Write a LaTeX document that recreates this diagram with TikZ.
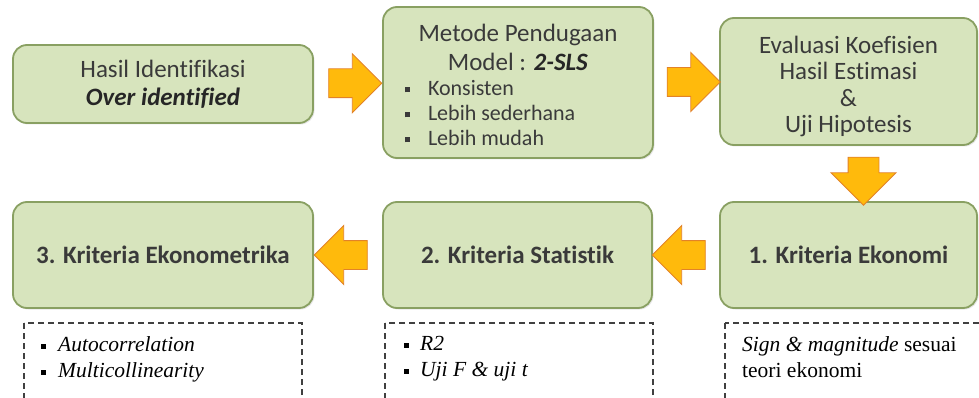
\documentclass[tikz,border=0pt]{standalone}
\usepackage{fontspec}
\setmainfont{Carlito}[Ligatures=NoCommon]
\newfontfamily\notefont{Liberation Serif}
\usetikzlibrary{shapes.arrows, shadows, calc}

\definecolor{boxfill}{RGB}{215,228,189}
\definecolor{boxline}{RGB}{137,160,98}
\definecolor{arrowfill}{RGB}{255,186,12}
\definecolor{arrowline}{RGB}{226,130,40}
\definecolor{txtgray}{RGB}{58,58,58}

\newcommand{\sqbul}{\rule[0.25ex]{5pt}{5pt}}

\tikzset{
    stagebox/.style={draw=boxline, line width=1.8pt, fill=boxfill,
        rounded corners=14pt, text=txtgray, align=center, inner sep=0pt,
        font=\fontsize{25}{27}\selectfont,
        drop shadow={shadow xshift=1.5pt, shadow yshift=-1.5pt, opacity=0.2}},
    flowarrow/.style={single arrow, draw=arrowline, line width=0.9pt,
        fill=arrowfill, inner xsep=0pt, inner ysep=14pt,
        single arrow head extend=15pt, minimum height=53pt},
    notebox/.style={draw=black!75, line width=1.1pt, dash pattern=on 6pt off 4pt},
    notetext/.style={anchor=north west, align=left, inner sep=0pt,
        font=\notefont\fontsize{21.5}{26}\selectfont}
}

\begin{document}
\begin{tikzpicture}[x=1pt, y=-1pt]
    \useasboundingbox (0,0) rectangle (979,398);
    \clip (0,0) rectangle (979,398);

    % 1. Top row
    \node[stagebox, minimum width=300pt, minimum height=78pt, font=\fontsize{25}{28}\selectfont] (hasil) at (163,84)
        {Hasil Identifikasi\\ \textcolor{black!85}{\textbf{\textit{Over identified}}}};
    \node[stagebox, minimum width=270pt, minimum height=151pt] (metode) at (518,82.5)
        {\begin{minipage}{250pt}\fontsize{25}{29}\selectfont
         \centering\vspace*{4pt}Metode Pendugaan\\ Model : \textcolor{black!85}{\textbf{\textit{2-SLS}}}\par
         \fontsize{22}{25}\selectfont\raggedright
         \hspace*{12pt}\sqbul\hspace{18pt}Konsisten\\
         \hspace*{12pt}\sqbul\hspace{18pt}Lebih sederhana\\
         \hspace*{12pt}\sqbul\hspace{18pt}Lebih mudah
         \end{minipage}};
    \node[stagebox, minimum width=257pt, minimum height=127pt] (evaluasi) at (848.5,81.5)
        {\begin{minipage}{240pt}\fontsize{25}{26.5}\selectfont
         \centering\vspace*{10pt}Evaluasi Koefisien\\ Hasil Estimasi\\ \&\\ Uji Hipotesis
         \end{minipage}};

    % 2. Bottom row
    \node[stagebox, minimum width=257pt, minimum height=106pt] (ekonomi) at (848.5,255)
        {\textbf{1. Kriteria Ekonomi}};
    \node[stagebox, minimum width=269pt, minimum height=106pt] (statistik) at (517.5,255)
        {\textbf{2. Kriteria Statistik}};
    \node[stagebox, minimum width=300pt, minimum height=106pt] (ekonometrika) at (163,255)
        {\textbf{3. Kriteria Ekonometrika}};

    % 3. Block arrows between the stages
    \node[flowarrow] (arrA) at ($(hasil.east)!0.5!(metode.west)$) {};
    \node[flowarrow] (arrB) at ($(metode.east)!0.5!(evaluasi.west)$) {};
    \node[flowarrow, shape border rotate=270, minimum height=48pt,
        inner xsep=15pt, inner ysep=0pt, single arrow head extend=17pt] (arrC)
        at ([xshift=15pt]$(evaluasi.south)!0.5!(ekonomi.north)$) {};
    \node[flowarrow, shape border rotate=180] (arrD) at ($(ekonomi.west)!0.5!(statistik.east)$) {};
    \node[flowarrow, shape border rotate=180] (arrE) at ($(statistik.west)!0.5!(ekonometrika.east)$) {};

    % 4. Dashed notes under the bottom row
    \draw[notebox] (24,323) rectangle (302,430);
    \draw[notebox] (385,323) rectangle (653,430);
    \draw[notebox] (725,323) rectangle (1000,430);
    \node[notetext] (noteEkm) at (41,336)
        {\sqbul\hspace{12pt}\textit{Autocorrelation}\\ \sqbul\hspace{12pt}\textit{Multicollinearity}};
    \node[notetext] (noteStat) at (404,336)
        {\sqbul\hspace{11pt}\textit{R2}\\ \sqbul\hspace{11pt}\textit{Uji F \& uji t}};
    \node[notetext] (noteEko) at (742,336)
        {\textit{Sign \& magnitude} sesuai\\ teori ekonomi};

\end{tikzpicture}
\end{document}
